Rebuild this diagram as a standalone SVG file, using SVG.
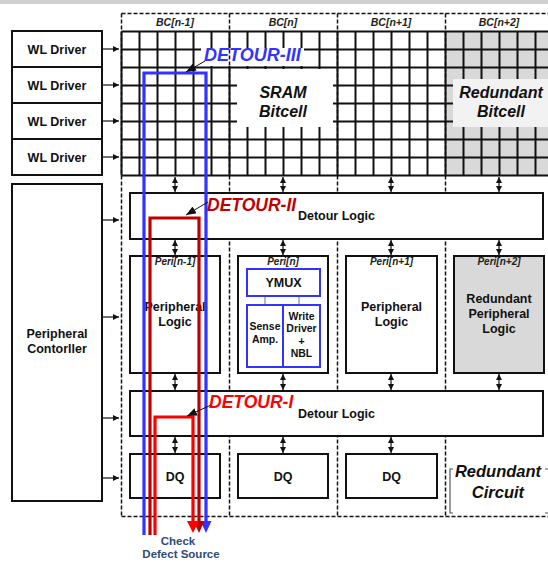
<svg xmlns="http://www.w3.org/2000/svg" width="548" height="562" viewBox="0 0 548 562">
<defs>
<style>
text{font-family:"Liberation Sans",Arial,sans-serif;font-weight:bold;fill:#111;text-anchor:middle}
.box{fill:#fff;stroke:#111;stroke-width:2}
.gbox{fill:#d9d9d9;stroke:#111;stroke-width:2}
.bbox{fill:#fff;stroke:#3333ff;stroke-width:2}
.dash{fill:none;stroke:#111;stroke-width:1.5;stroke-dasharray:4 2}
.grid{fill:none;stroke:#111;stroke-width:2}
.lbl{font-size:10.5px;font-style:italic;fill:#222}
.t12{font-size:12.5px}
.t10{font-size:10.5px}
.dt{font-size:18px;font-style:italic;text-anchor:start}
.da{fill:none;stroke:#111;stroke-width:1.2;marker-start:url(#ah);marker-end:url(#ah)}
.ra{fill:none;stroke:#111;stroke-width:1.2;marker-end:url(#ah)}
.la{fill:none;stroke:#111;stroke-width:1;marker-end:url(#lh)}
.path{fill:none;stroke-width:3.2}
</style>
<marker id="ah" viewBox="0 0 6 6" refX="6" refY="3" markerWidth="6" markerHeight="6" markerUnits="userSpaceOnUse" orient="auto-start-reverse"><path d="M0,0 L6,3 L0,6 z" fill="#111"/></marker>
<marker id="lh" viewBox="0 0 10 8" refX="10" refY="4" markerWidth="10" markerHeight="8" markerUnits="userSpaceOnUse" orient="auto"><path d="M0,0 L10,4 L0,8 z" fill="#111"/></marker>
</defs>
<rect x="0" y="0" width="548" height="562" fill="#fff"/>
<rect x="0" y="0" width="548" height="4" fill="#cfcfcf"/>

<g id="bitcell-array">
<rect x="445.5" y="31.5" width="103" height="144" fill="#d9d9d9"/>
<path class="grid" d="M121.5,31.5V175.5M139.5,31.5V175.5M157.5,31.5V175.5M175.5,31.5V175.5M193.5,31.5V175.5M211.5,31.5V175.5M229.5,31.5V175.5M247.5,31.5V175.5M265.5,31.5V175.5M283.5,31.5V175.5M301.5,31.5V175.5M319.5,31.5V175.5M337.5,31.5V175.5M355.5,31.5V175.5M373.5,31.5V175.5M391.5,31.5V175.5M409.5,31.5V175.5M427.5,31.5V175.5M445.5,31.5V175.5M463.5,31.5V175.5M481.5,31.5V175.5M499.5,31.5V175.5M517.5,31.5V175.5M535.5,31.5V175.5M121.5,31.5H548M121.5,49.5H548M121.5,67.5H548M121.5,85.5H548M121.5,103.5H548M121.5,121.5H548M121.5,139.5H548M121.5,157.5H548M121.5,175.5H548"/>
<rect x="237" y="69" width="96" height="58" fill="#fff"/>
<rect x="453" y="79" width="95" height="48" fill="#f2f2f2"/>
<rect x="201" y="48" width="103" height="18" fill="#fff"/>
<text x="283" y="98" style="font-size:16px;font-style:italic">SRAM</text>
<text x="283" y="117" style="font-size:16px;font-style:italic">Bitcell</text>
<text x="501" y="98" style="font-size:16px;font-style:italic">Redundant</text>
<text x="501" y="117" style="font-size:16px;font-style:italic">Bitcell</text>
</g>

<g id="bc-columns">
<path class="dash" d="M121.5,13.5H548M121.5,13.5V516.5M121.5,516.5H548M229.5,13.5V516.5M337.5,13.5V516.5M445.5,13.5V516.5"/>
<text class="lbl" x="175" y="26">BC[n-1]</text>
<text class="lbl" x="283" y="26">BC[n]</text>
<text class="lbl" x="391" y="26">BC[n+1]</text>
<text class="lbl" x="499" y="26">BC[n+2]</text>
</g>

<g id="wl-driver-1"><rect class="box" x="12" y="31" width="90" height="36"/><text class="t12" x="57" y="53.5">WL Driver</text></g>
<g id="wl-driver-2"><rect class="box" x="12" y="67" width="90" height="36"/><text class="t12" x="57" y="89.5">WL Driver</text></g>
<g id="wl-driver-3"><rect class="box" x="12" y="103" width="90" height="36"/><text class="t12" x="57" y="125.5">WL Driver</text></g>
<g id="wl-driver-4"><rect class="box" x="12" y="139" width="90" height="36"/><text class="t12" x="57" y="161.5">WL Driver</text></g>
<g id="peripheral-controller"><rect class="box" x="12" y="184" width="90" height="317"/><text class="t12" x="57" y="338">Peripheral</text><text class="t12" x="57" y="353">Contorller</text></g>

<g id="detour-logic-2"><rect class="box" x="130" y="193" width="413" height="46"/><text class="t12" x="336.5" y="220">Detour Logic</text></g>
<g id="detour-logic-1"><rect class="box" x="130" y="391" width="413" height="45"/><text class="t12" x="336.5" y="418">Detour Logic</text></g>

<g id="peri-n-1"><rect class="box" x="130" y="256" width="90" height="117"/><text class="lbl" x="175" y="265" style="font-size:10px">Peri[n-1]</text><text class="t12" x="175" y="311">Peripheral</text><text class="t12" x="175" y="326">Logic</text></g>
<g id="peri-n"><rect class="box" x="238" y="256" width="90" height="117"/><text class="lbl" x="283" y="265" style="font-size:10px">Peri[n]</text>
<path d="M265,296V305M299,296V305" stroke="#888" stroke-width="1.2"/>
<rect class="bbox" x="247" y="269" width="73" height="27"/><text class="t12" x="283.5" y="287">YMUX</text>
<rect class="bbox" x="247" y="305" width="73" height="62"/><path d="M283,305V367" stroke="#3333ff" stroke-width="2"/>
<text class="t10" x="265" y="330">Sense</text><text class="t10" x="265" y="343">Amp.</text>
<text class="t10" x="301.5" y="320">Write</text><text class="t10" x="301.5" y="332">Driver</text><text class="t10" x="301.5" y="345">+</text><text class="t10" x="301.5" y="357">NBL</text></g>
<g id="peri-n1"><rect class="box" x="346" y="256" width="91" height="117"/><text class="lbl" x="391.5" y="265" style="font-size:10px">Peri[n+1]</text><text class="t12" x="391.5" y="311">Peripheral</text><text class="t12" x="391.5" y="326">Logic</text></g>
<g id="peri-n2"><rect class="gbox" x="454" y="256" width="90" height="117"/><text class="lbl" x="499" y="265" style="font-size:10px">Peri[n+2]</text><text class="t12" x="499" y="303">Redundant</text><text class="t12" x="499" y="318">Peripheral</text><text class="t12" x="499" y="333">Logic</text></g>

<g id="dq-1"><rect class="box" x="130" y="454" width="90" height="44"/><text class="t12" x="175" y="480.5">DQ</text></g>
<g id="dq-2"><rect class="box" x="238" y="454" width="90" height="44"/><text class="t12" x="283" y="480.5">DQ</text></g>
<g id="dq-3"><rect class="box" x="346" y="454" width="91" height="44"/><text class="t12" x="391.5" y="480.5">DQ</text></g>

<g id="redundant-circuit">
<path d="M453,469H450V513H453M545,469H548M545,513H548" fill="none" stroke="#555" stroke-width="1.2"/>
<text x="498" y="477" style="font-size:16.5px;font-style:italic">Redundant</text>
<text x="498" y="498" style="font-size:16.5px;font-style:italic">Circuit</text>
</g>

<g id="connectors">
<line class="ra" x1="103" y1="49" x2="119" y2="49"/>
<line class="ra" x1="103" y1="85" x2="119" y2="85"/>
<line class="ra" x1="103" y1="121" x2="119" y2="121"/>
<line class="ra" x1="103" y1="157" x2="119" y2="157"/>
<line class="ra" x1="103" y1="220" x2="119" y2="220"/>
<line class="ra" x1="103" y1="317" x2="119" y2="317"/>
<line class="ra" x1="103" y1="418" x2="119" y2="418"/>
<line class="ra" x1="103" y1="478" x2="119" y2="478"/>
<line class="da" x1="175" y1="177" x2="175" y2="192"/>
<line class="da" x1="283" y1="177" x2="283" y2="192"/>
<line class="da" x1="391" y1="177" x2="391" y2="192"/>
<line class="da" x1="499" y1="177" x2="499" y2="192"/>
<line class="da" x1="175" y1="240" x2="175" y2="255"/>
<line class="da" x1="283" y1="240" x2="283" y2="255"/>
<line class="da" x1="391" y1="240" x2="391" y2="255"/>
<line class="da" x1="499" y1="240" x2="499" y2="255"/>
<line class="da" x1="175" y1="374" x2="175" y2="390"/>
<line class="da" x1="283" y1="374" x2="283" y2="390"/>
<line class="da" x1="391" y1="374" x2="391" y2="390"/>
<line class="da" x1="499" y1="374" x2="499" y2="390"/>
<line class="da" x1="175" y1="437" x2="175" y2="453"/>
<line class="da" x1="283" y1="437" x2="283" y2="453"/>
<line class="da" x1="391" y1="437" x2="391" y2="453"/>
<path class="path" stroke="#3333ff" d="M144,535V73H206V522"/>
<polygon points="200.5,521 211.5,521 206,533" fill="#3333ff"/>
<path class="path" stroke="#c00000" d="M150,535V218H199V522"/>
<polygon points="193.5,521 204.5,521 199,533" fill="#c00000"/>
<path class="path" stroke="#ff0000" d="M155,535V417H193V522"/>
<polygon points="187,521 199,521 193,533" fill="#ff0000"/>
<line class="la" x1="205" y1="61" x2="186" y2="72"/>
<line class="la" x1="208" y1="202" x2="186" y2="215"/>
<line class="la" x1="211" y1="405" x2="187" y2="416"/>
</g>

<g id="labels">
<text class="dt" x="204" y="61" style="fill:#3333ff">DETOUR-III</text>
<text class="dt" x="207" y="210.5" style="fill:#c00000;font-size:17.5px">DETOUR-II</text>
<text class="dt" x="209" y="408" style="fill:#ff0000;font-size:17.5px">DETOUR-I</text>
<text x="178" y="545" style="font-size:11.5px;fill:#2e4b7a">Check</text>
<text x="181" y="558" style="font-size:11.5px;fill:#2e4b7a">Defect Source</text>
</g>
</svg>
